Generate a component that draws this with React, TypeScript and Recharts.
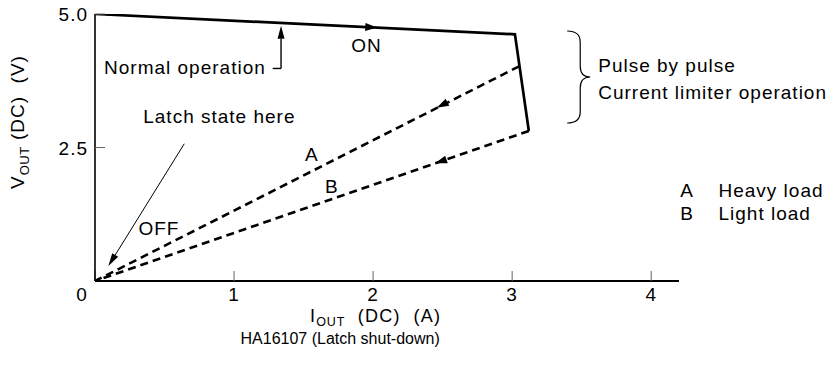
import React from 'react';
import { ComposedChart, Line, XAxis, YAxis, ReferenceLine, ReferenceDot } from 'recharts';

const FONT = '"Liberation Sans", Arial, Helvetica, sans-serif';
const INK = '#000';

// axis ticks
const xTicks = [0, 1, 2, 3, 4];
const yTicks = [2.5, 5.0];

// series (I_OUT in A, V_OUT in V)
const onPath = [
  { i: 0, v: 5.0 },
  { i: 3.02, v: 4.62 },
  { i: 3.12, v: 2.81 },
];
const heavyLoadPath = [
  { i: 3.05, v: 4.02 },
  { i: 0, v: 0 },
];
const lightLoadPath = [
  { i: 3.12, v: 2.81 },
  { i: 0, v: 0 },
];

// direction arrows along the curves (tail -> tip)
const flowArrows = [
  [{ x: 1.95, y: 4.755 }, { x: 2.03, y: 4.745 }],
  [{ x: 2.56, y: 3.38 }, { x: 2.458, y: 3.245 }],
  [{ x: 2.56, y: 2.306 }, { x: 2.446, y: 2.203 }],
];

// leader lines for annotations
const normalLeaderFoot = [{ x: 1.278, y: 3.98 }, { x: 1.338, y: 3.98 }];
const normalLeader = [{ x: 1.338, y: 3.98 }, { x: 1.338, y: 4.78 }];
const latchLeader = [{ x: 0.642, y: 2.57 }, { x: 0.096, y: 0.28 }];
const braceSpan = [{ x: 3.396, y: 4.682 }, { x: 3.396, y: 2.959 }];

// annotation texts
const notes = [
  { i: 0.065, v: 3.876, text: 'Normal operation', anchor: 'start' },
  { i: 1.842, v: 4.283, text: 'ON', anchor: 'start' },
  { i: 0.347, v: 2.953, text: 'Latch state here', anchor: 'start' },
  { i: 1.511, v: 2.253, text: 'A', anchor: 'start' },
  { i: 1.655, v: 1.642, text: 'B', anchor: 'start' },
  { i: 0.312, v: 0.861, text: 'OFF', anchor: 'start' },
  { i: 3.619, v: 3.923, text: 'Pulse by pulse', anchor: 'start' },
  { i: 3.619, v: 3.399, text: 'Current limiter operation', anchor: 'start' },
  { i: 4.209, v: 1.579, text: 'A', anchor: 'start' },
  { i: 4.484, v: 1.579, text: 'Heavy load', anchor: 'start' },
  { i: 4.209, v: 1.148, text: 'B', anchor: 'start' },
  { i: 4.484, v: 1.148, text: 'Light load', anchor: 'start' },
];
const title = { i: 1.763, v: -1.18, text: 'HA16107 (Latch shut-down)' };

const arrowShape = (len: number, half: number, shaft: boolean, sw: number) => (p: any) => {
  const { x1, y1, x2, y2 } = p;
  const a = Math.atan2(y2 - y1, x2 - x1);
  const bx = x2 - len * Math.cos(a);
  const by = y2 - len * Math.sin(a);
  const nx = -Math.sin(a) * half;
  const ny = Math.cos(a) * half;
  return (
    <g>
      {shaft && <line x1={x1} y1={y1} x2={bx} y2={by} stroke={INK} strokeWidth={sw} />}
      <polygon points={`${x2},${y2} ${bx + nx},${by + ny} ${bx - nx},${by - ny}`} fill={INK} />
    </g>
  );
};

const plainSegment = (p: any) => (
  <line x1={p.x1} y1={p.y1} x2={p.x2} y2={p.y2} stroke={INK} strokeWidth={1.4} />
);

const braceShape = (p: any) => {
  const { x1, y1, y2 } = p;
  const x = x1;
  const a = 13;
  const w = 23;
  const ym = (y1 + y2) / 2;
  const r = 11;
  const d = `M${x},${y1} Q${x + a},${y1} ${x + a},${y1 + r} L${x + a},${ym - r} Q${x + a},${ym} ${x + w},${ym} Q${x + a},${ym} ${x + a},${ym + r} L${x + a},${y2 - r} Q${x + a},${y2} ${x},${y2}`;
  return <path d={d} fill="none" stroke={INK} strokeWidth={1.2} />;
};

const XTick = (p: any) => {
  const v = p.payload.value;
  const dx = v === 0 ? -13 : 0;
  return (
    <text x={p.x + dx} y={p.y + 12} textAnchor="middle" fontSize={19} letterSpacing={1} fontFamily={FONT} fill={INK}>
      {v}
    </text>
  );
};

const YTick = (p: any) => (
  <text x={p.x} y={p.y + 7} textAnchor="end" fontSize={19} letterSpacing={1} fontFamily={FONT} fill={INK}>
    {Number(p.payload.value).toFixed(1)}
  </text>
);

const XLabel = (p: any) => {
  const vb = p.viewBox || { x: 95, y: 281, width: 584 };
  return (
    <text x={vb.x + 215} y={vb.y + 41} fontSize={18} letterSpacing={1.3} fontFamily={FONT} fill={INK}>
      <tspan>I</tspan>
      <tspan dy={4} fontSize={12.5} letterSpacing={0.8}>OUT</tspan>
      <tspan dy={-4}>{'\u00a0\u00a0(DC)\u00a0\u00a0(A)'}</tspan>
    </text>
  );
};

const YLabel = (p: any) => {
  const vb = p.viewBox || { x: 35, y: 14, width: 60, height: 267 };
  const cx = vb.x - 11;
  const cy = vb.y + 108;
  return (
    <text x={cx} y={cy} transform={`rotate(-90 ${cx} ${cy})`} textAnchor="middle" fontSize={19} letterSpacing={1} fontFamily={FONT} fill={INK}>
      <tspan>V</tspan>
      <tspan dy={5} fontSize={13} letterSpacing={0.5}>OUT</tspan>
      <tspan dy={-5}>{'\u00a0(DC)\u00a0\u00a0(V)'}</tspan>
    </text>
  );
};

export default function App() {
  return (
    <div style={{ position: 'absolute', left: 0, top: 0, background: '#fff' }}>
      <ComposedChart width={831} height={373} margin={{ top: 14, right: 152, bottom: 62, left: 35 }}>
        <XAxis
          type="number"
          dataKey="i"
          domain={[0, 4.2]}
          ticks={xTicks}
          allowDataOverflow
          height={30}
          axisLine={{ stroke: INK, strokeWidth: 1.8 }}
          tickLine={{ stroke: '#666', strokeWidth: 1 }}
          tickSize={-10}
          tickMargin={18}
          tick={XTick}
          label={<XLabel />}
        />
        <YAxis
          type="number"
          dataKey="v"
          domain={[0, 5]}
          ticks={yTicks}
          allowDataOverflow
          width={60}
          axisLine={{ stroke: INK, strokeWidth: 1.6 }}
          tickLine={{ stroke: '#666', strokeWidth: 1 }}
          tickSize={-10}
          tickMargin={17}
          tick={YTick}
          label={<YLabel />}
        />
        <Line data={onPath} dataKey="v" type="linear" stroke={INK} strokeWidth={2.7} dot={false} activeDot={false} isAnimationActive={false} />
        <Line data={heavyLoadPath} dataKey="v" type="linear" stroke={INK} strokeWidth={2.6} strokeDasharray="8 5" dot={false} activeDot={false} isAnimationActive={false} />
        <Line data={lightLoadPath} dataKey="v" type="linear" stroke={INK} strokeWidth={2.6} strokeDasharray="8 5" dot={false} activeDot={false} isAnimationActive={false} />

        {flowArrows.map((seg, k) => (
          <ReferenceLine key={`fa${k}`} segment={seg} ifOverflow="visible" shape={arrowShape(12, 4, false, 0)} />
        ))}
        <ReferenceLine segment={normalLeaderFoot} ifOverflow="visible" shape={plainSegment} />
        <ReferenceLine segment={normalLeader} ifOverflow="visible" shape={arrowShape(13, 3.5, true, 1.4)} />
        <ReferenceLine segment={latchLeader} ifOverflow="visible" shape={arrowShape(13, 3.5, true, 1)} />
        <ReferenceLine segment={braceSpan} ifOverflow="visible" shape={braceShape} />

        {notes.map((n, k) => (
          <ReferenceDot
            key={`n${k}`}
            x={n.i}
            y={n.v}
            ifOverflow="visible"
            shape={(p: any) => (
              <text x={p.cx} y={p.cy} textAnchor={n.anchor as any} fontSize={19} letterSpacing={1} fontFamily={FONT} fill={INK}>
                {n.text}
              </text>
            )}
          />
        ))}
        <ReferenceDot
          x={title.i}
          y={title.v}
          ifOverflow="visible"
          shape={(p: any) => (
            <text x={p.cx} y={p.cy} textAnchor="middle" fontSize={16} fontFamily={FONT} fill={INK}>
              {title.text}
            </text>
          )}
        />
      </ComposedChart>
    </div>
  );
}
